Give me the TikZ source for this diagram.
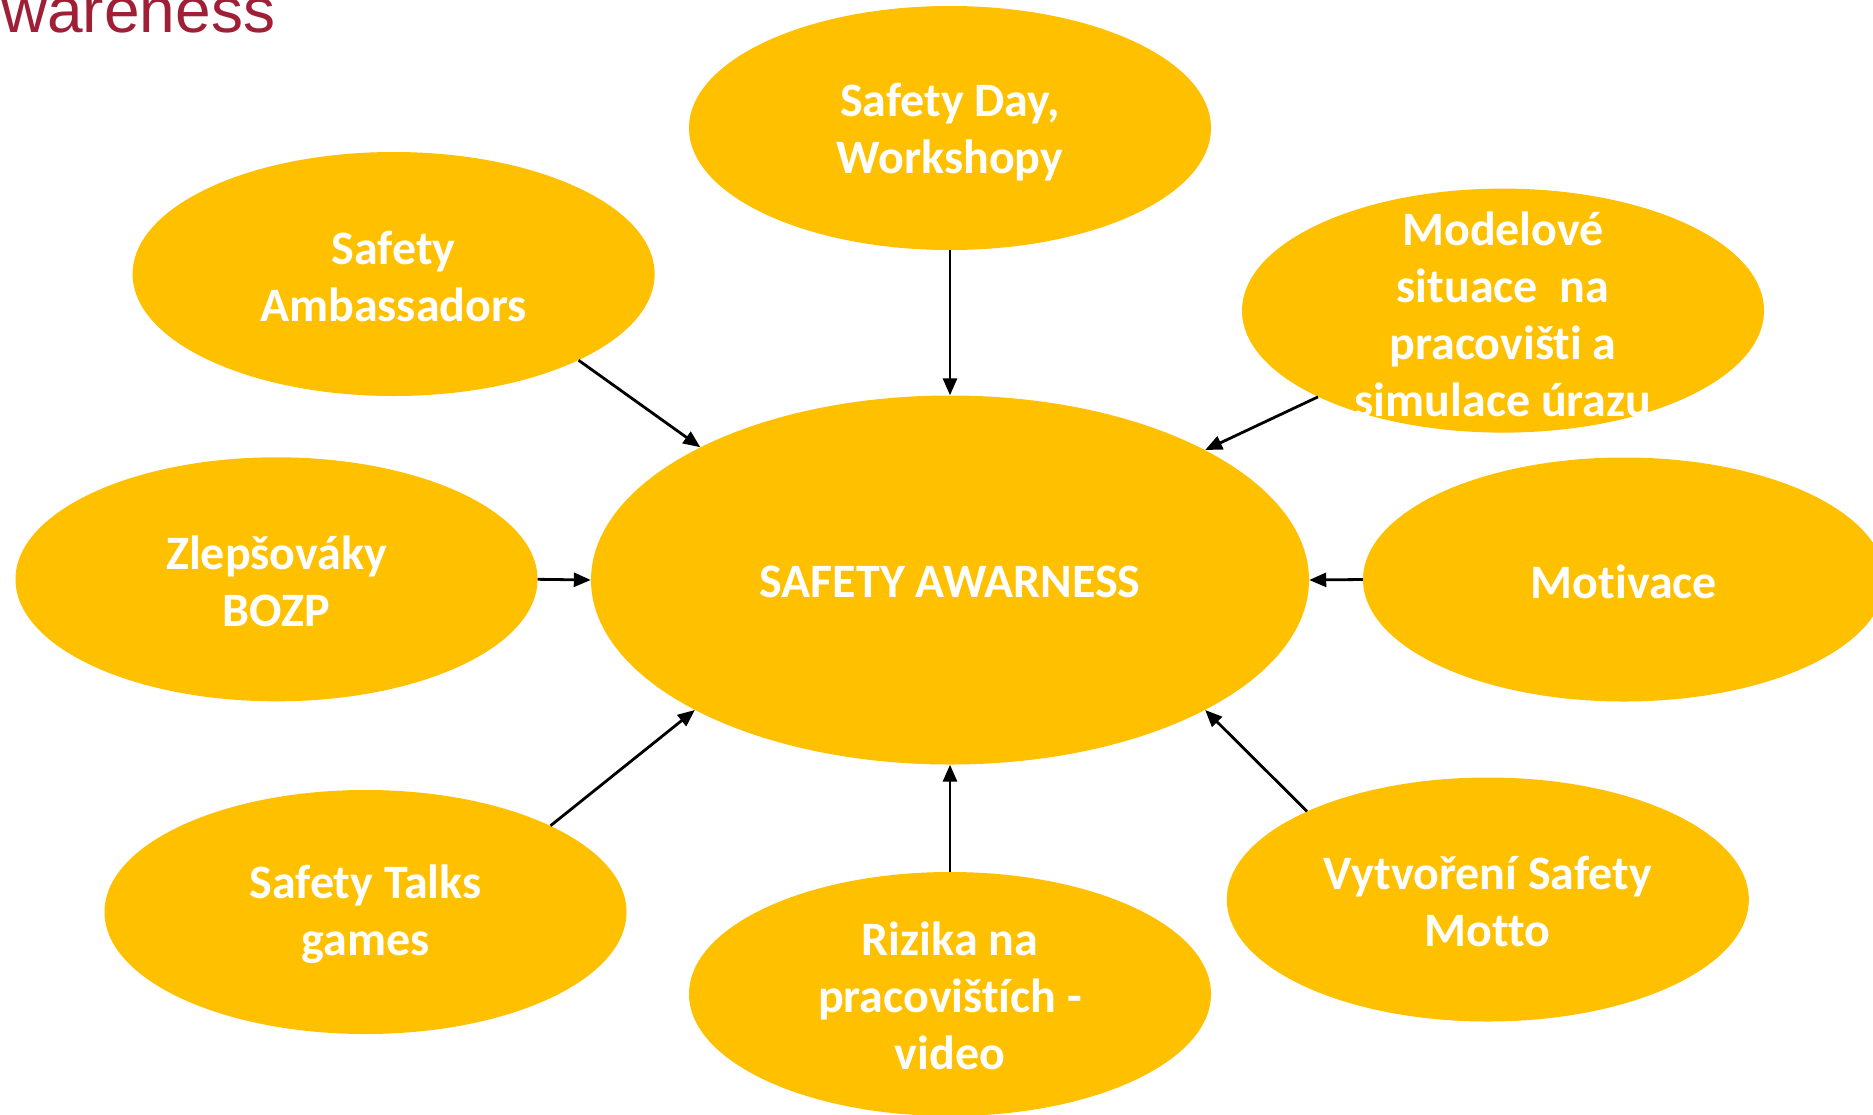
\documentclass[tikz,border=0pt]{standalone}
\usepackage{fontspec}
\setmainfont[Ligatures=NoCommon]{Carlito}
\newfontfamily\arialf{Liberation Sans}
\usetikzlibrary{arrows.meta,shapes.geometric}
\definecolor{bubble}{HTML}{FFC000}
\definecolor{titlered}{HTML}{9E1F36}
\tikzset{
  bub/.style={ellipse, fill=bubble, draw=none, inner sep=0pt,
    minimum width=522pt, minimum height=244pt},
  bigbub/.style={ellipse, fill=bubble, draw=none, inner sep=0pt,
    minimum width=718pt, minimum height=369pt},
  lbl/.style={text=white, font=\bfseries\fontsize{48}{57}\selectfont,
    align=center, inner sep=0pt},
  conn/.style={draw=black, line width=2.8pt,
    -{Triangle[length=17pt,width=14pt]}}
}
\begin{document}
\begin{tikzpicture}[x=1pt,y=-1pt]
\useasboundingbox (0,0) rectangle (1873,1114);
\fill[white] (0,0) rectangle (1873,1114);
% title fragment
\node[anchor=base west, inner sep=0pt, text=titlered,
  font=\arialf\fontsize{64}{72}\selectfont] (title) at (1,32) {wareness};
% bubbles
\node[bigbub] (ctr) at (950,580) {};
\node[bub] (day) at (950,128) {};
\node[bub] (amb) at (393.6,274) {};
\node[bub] (mod) at (1503,310.6) {};
\node[bub] (zl) at (276.5,579.3) {};
\node[bub] (mot) at (1624,579.5) {};
\node[bub] (tal) at (365.5,912) {};
\node[bub] (riz) at (950,994) {};
\node[bub] (vyt) at (1487.8,899.5) {};
% labels
\node[lbl] (ctrT) at (950,582) {SAFETY AWARNESS};
\node[lbl] (dayT) at (950,132) {Safety Day,\\Workshopy};
\node[lbl] (ambT) at (393.6,276) {Safety\\Ambassadors};
\node[lbl] (modT) at (1503,314) {Modelové\\situace\ \ na\\pracovišti a\\simulace úrazu};
\node[lbl] (zlT) at (276.5,581) {Zlepšováky\\BOZP};
\node[lbl] (motT) at (1624,582) {Motivace};
\node[lbl] (talT) at (365.5,914) {Safety Talks\\games};
\node[lbl] (rizT) at (950,996) {Rizika na\\pracovištích -\\video};
\node[lbl] (vytT) at (1487.8,901) {Vytvoření Safety\\Motto};
% connectors
\draw[conn] (amb.-25.4) -- (ctr.152.5);
\draw[conn] (day.south) -- (ctr.north);
\draw[conn] (mod.205.7) -- (ctr.27.5);
\draw[conn] (zl.east) -- (ctr.west);
\draw[conn] (mot.west) -- (ctr.east);
\draw[conn] (tal.25.4) -- (ctr.207.5);
\draw[conn] (riz.north) -- (ctr.south);
\draw[conn] (vyt.154.8) -- (ctr.-27.5);
\end{tikzpicture}
\end{document}
